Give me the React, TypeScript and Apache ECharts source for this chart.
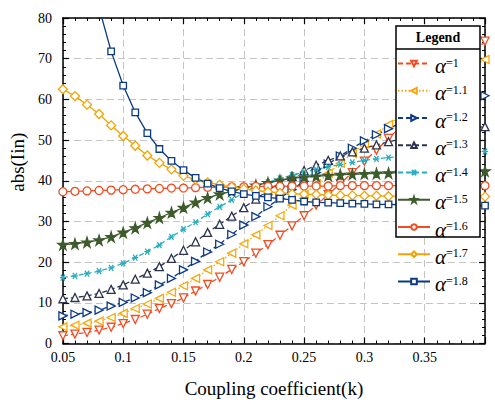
import { useEffect, useRef } from 'react';
import * as echarts from 'echarts';

// coupling coefficient k (x axis)
const K = [
  0.05, 0.06, 0.07, 0.08, 0.09, 0.1, 0.11, 0.12, 0.13, 0.14, 0.15, 0.16,
  0.17, 0.18, 0.19, 0.2, 0.21, 0.22, 0.23, 0.24, 0.25, 0.26, 0.27, 0.28,
  0.29, 0.3, 0.31, 0.32, 0.33, 0.34, 0.35, 0.36, 0.37, 0.38, 0.39, 0.4,
];

const ALPHAS = ['1', '1.1', '1.2', '1.3', '1.4', '1.5', '1.6', '1.7', '1.8'];

// abs(Iin) per alpha
const A10 = [1.9, 2.3, 2.7, 3.3, 4.0, 4.9, 5.9, 7.2, 8.6, 9.8, 11.2, 12.9, 14.5, 16.3, 18.2, 20.1, 22.2, 24.3, 26.6, 28.9, 31.4, 34.0, 36.6, 39.3, 42.0, 44.8, 47.5, 50.4, 53.3, 56.3, 59.3, 62.3, 65.3, 68.3, 71.3, 74.3];
const A11 = [4.1, 4.5, 5.0, 5.5, 6.4, 7.4, 8.6, 9.7, 11.1, 12.6, 14.2, 16.0, 18.1, 20.1, 22.2, 24.5, 26.7, 29.0, 31.4, 34.0, 36.6, 39.2, 41.8, 44.3, 46.7, 49.1, 51.5, 53.8, 56.0, 58.2, 60.3, 62.3, 64.3, 66.2, 68.0, 69.8];
const A12 = [6.8, 7.2, 7.6, 8.2, 9.2, 10.1, 11.2, 12.5, 14.4, 16.0, 18.1, 20.2, 22.5, 24.4, 26.8, 29.1, 31.2, 33.6, 35.7, 37.8, 39.9, 42.0, 44.1, 46.1, 48.0, 49.8, 51.3, 52.8, 54.2, 55.5, 56.7, 57.8, 58.8, 59.6, 60.3, 60.9];
const A13 = [11.0, 11.3, 11.7, 12.3, 13.3, 14.4, 15.8, 17.3, 18.9, 20.9, 22.9, 25.0, 27.3, 29.3, 31.3, 33.4, 35.5, 37.6, 39.5, 41.1, 42.5, 43.8, 45.0, 46.1, 47.1, 48.0, 48.8, 49.6, 50.2, 50.8, 51.3, 51.8, 52.2, 52.6, 53.0, 53.3];
const A14 = [16.2, 16.6, 17.2, 17.8, 18.6, 19.7, 21.1, 22.6, 24.2, 26.2, 28.1, 29.8, 31.8, 33.6, 35.3, 37.1, 38.6, 39.6, 40.6, 41.4, 42.1, 42.8, 43.4, 44.0, 44.5, 45.0, 45.4, 45.7, 46.0, 46.3, 46.5, 46.7, 46.9, 47.0, 47.1, 47.2];
const A15 = [24.3, 24.5, 24.9, 25.4, 26.2, 27.3, 28.4, 29.7, 30.9, 32.2, 33.4, 34.7, 35.8, 36.7, 37.4, 38.2, 38.9, 39.5, 40.1, 40.6, 40.9, 41.1, 41.3, 41.5, 41.6, 41.7, 41.8, 41.9, 42.0, 42.0, 42.1, 42.2, 42.2, 42.3, 42.3, 42.4];
const A16 = [37.3, 37.4, 37.5, 37.6, 37.7, 37.8, 37.9, 38.0, 38.1, 38.2, 38.2, 38.3, 38.4, 38.4, 38.5, 38.5, 38.6, 38.6, 38.6, 38.7, 38.7, 38.7, 38.7, 38.8, 38.8, 38.8, 38.8, 38.8, 38.8, 38.8, 38.8, 38.8, 38.8, 38.8, 38.8, 38.8];
const A17 = [62.5, 60.8, 58.7, 56.4, 53.6, 51.0, 48.6, 46.2, 44.4, 42.8, 41.2, 40.3, 39.6, 39.0, 38.5, 38.0, 37.6, 37.3, 37.0, 36.8, 36.7, 36.6, 36.5, 36.4, 36.4, 36.3, 36.3, 36.2, 36.2, 36.2, 36.2, 36.1, 36.1, 36.1, 36.1, 36.1];
const A18 = [null, null, null, 82.5, 71.8, 63.4, 56.8, 51.7, 47.8, 44.9, 42.6, 40.7, 39.3, 38.2, 37.4, 36.7, 36.3, 35.9, 35.6, 35.3, 34.9, 34.7, 34.6, 34.5, 34.4, 34.3, 34.2, 34.2, 34.1, 34.1, 34.0, 34.0, 34.0, 33.9, 33.9, 33.9];

const VALUES = [A10, A11, A12, A13, A14, A15, A16, A17, A18];

const FONT = '"Liberation Serif", "Times New Roman", serif';
const STAR = 'path://M50,0L61,35L98,35L68,57L79,91L50,70L21,91L32,57L2,35L39,35Z';
const ASTER = 'path://M0,5L10,5M1.5,1.5L8.5,8.5M8.5,1.5L1.5,8.5';
const DASH = [5, 3];
const DOT = [1.5, 2];

const STYLES = [
  { color: '#f24c21', line: DASH, symbol: 'triangle', rotate: 180, size: 8, filled: false },
  { color: '#f9a80a', line: DOT, symbol: 'triangle', rotate: 90, size: 8, filled: false },
  { color: '#0d3a8a', line: DASH, symbol: 'triangle', rotate: -90, size: 8, filled: false },
  { color: '#2b3350', line: DASH, symbol: 'triangle', rotate: 0, size: 8, filled: false },
  { color: '#2aaebf', line: DASH, symbol: ASTER, rotate: 0, size: 6, filled: true },
  { color: '#3e5b2c', line: 'solid', symbol: STAR, rotate: 0, size: 10, filled: true },
  { color: '#f24c21', line: 'solid', symbol: 'circle', rotate: 0, size: 8, filled: false },
  { color: '#f5a300', line: 'solid', symbol: 'diamond', rotate: 0, size: 9, filled: false },
  { color: '#0a3a82', line: 'solid', symbol: 'rect', rotate: 0, size: 6.5, filled: false },
];

const axisLine = { show: true, onZero: false, lineStyle: { color: '#000', width: 1.5 } };
const axisTick = { show: true, inside: true, length: 6, lineStyle: { color: '#000', width: 1.2 } };
const minorTick = { show: true, splitNumber: 5, length: 3, lineStyle: { color: '#000', width: 1 } };
const gridLine = { show: true, lineStyle: { color: '#c4c4c4', width: 1, type: [7, 4] } };

export default function App() {
  const el = useRef<HTMLDivElement>(null);

  useEffect(() => {
    if (!el.current) return;
    const chart = echarts.init(el.current, null, { renderer: 'svg' });

    const series = ALPHAS.map((a, i) => {
      const st = STYLES[i];
      return {
        name: 'α=' + a,
        type: 'line',
        data: K.map((k, j) => [k, VALUES[i][j]]).filter((d) => d[1] != null),
        color: st.color,
        symbol: st.symbol,
        symbolSize: st.size,
        symbolRotate: st.rotate,
        showAllSymbol: true,
        lineStyle: { color: st.color, width: 1.3, type: st.line },
        itemStyle: { color: st.filled ? st.color : '#fff', borderColor: st.color, borderWidth: 1.3 },
        emphasis: { disabled: true },
        clip: true,
      };
    });

    const option = {
      animation: false,
      textStyle: { fontFamily: FONT },
      grid: { left: 61, right: 10, top: 18, bottom: 60.5 },
      xAxis: [
        {
          type: 'value',
          min: 0.05,
          max: 0.4,
          interval: 0.05,
          name: 'Coupling coefficient(k)',
          nameLocation: 'middle',
          nameGap: 35,
          nameTextStyle: { fontFamily: FONT, fontSize: 19, color: '#000' },
          axisLine,
          axisTick,
          minorTick,
          splitLine: gridLine,
          axisLabel: {
            margin: 7,
            color: '#000',
            fontFamily: FONT,
            fontSize: 14,
            formatter: (v: number) => (Math.abs(v - 0.4) < 1e-6 ? '' : String(Math.round(v * 100) / 100)),
          },
        },
        {
          type: 'value',
          position: 'top',
          min: 0.05,
          max: 0.4,
          interval: 0.05,
          axisLine,
          axisTick,
          minorTick,
          splitLine: { show: false },
          axisLabel: { show: false },
        },
      ],
      yAxis: [
        {
          type: 'value',
          min: 0,
          max: 80,
          interval: 10,
          name: 'abs(Iin)',
          nameLocation: 'middle',
          nameGap: 27,
          nameTextStyle: { fontFamily: FONT, fontSize: 19, color: '#000', padding: [0, 0, 0, 37] },
          axisLine,
          axisTick,
          minorTick,
          splitLine: gridLine,
          axisLabel: { margin: 11, color: '#000', fontFamily: FONT, fontSize: 14, padding: [0, 0, 6, 0] },
        },
        {
          type: 'value',
          position: 'right',
          min: 0,
          max: 80,
          interval: 10,
          axisLine,
          axisTick,
          minorTick,
          splitLine: { show: false },
          axisLabel: { show: false },
        },
      ],
      legend: {
        z: 60,
        orient: 'vertical',
        left: 397,
        top: 50.5,
        padding: 0,
        itemWidth: 32,
        itemHeight: 7,
        itemGap: 1.25,
        selectedMode: false,
        formatter: (name: string) => '{a|α}{s|' + name.replace('α', '') + '}',
        textStyle: {
          color: '#000',
          fontFamily: FONT,
          rich: {
            a: { fontFamily: FONT, fontSize: 21, fontStyle: 'italic', lineHeight: 14, padding: [5, 0, 0, 0], color: '#000' },
            s: { fontFamily: FONT, fontSize: 12, lineHeight: 10, verticalAlign: 'top', color: '#000' },
          },
        },
      },
      graphic: [
        {
          type: 'rect',
          z: 50,
          shape: { x: 396, y: 26, width: 84, height: 211 },
          style: { fill: '#fff', stroke: '#000', lineWidth: 1.5 },
        },
        {
          type: 'line',
          z: 51,
          shape: { x1: 396, y1: 49, x2: 480, y2: 49 },
          style: { stroke: '#000', lineWidth: 1.5 },
        },
        {
          type: 'text',
          z: 51,
          x: 438,
          y: 37.5,
          style: {
            text: 'Legend',
            fill: '#000',
            font: `bold 14px ${FONT}`,
            textAlign: 'center',
            textVerticalAlign: 'middle',
            verticalAlign: 'middle',
          },
        },
      ],
      series,
    };

    chart.setOption(option as echarts.EChartsOption);
    return () => chart.dispose();
  }, []);

  return <div ref={el} style={{ position: 'fixed', left: 0, top: 0, width: 495, height: 404, background: '#fff' }} />;
}
